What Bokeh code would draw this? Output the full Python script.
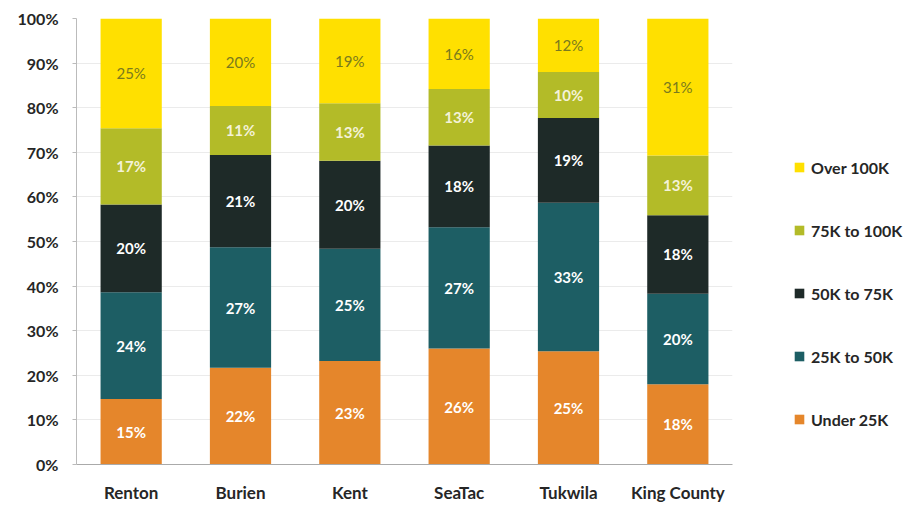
import numpy as np
from bokeh.plotting import figure
from bokeh.layouts import row
from bokeh.models import ColumnDataSource, Legend, LegendItem, PrintfTickFormatter, FixedTicker
from bokeh.core.properties import value
from bokeh.embed import file_html
from bokeh.resources import INLINE

cities = ["Renton", "Burien", "Kent", "SeaTac", "Tukwila", "King County"]
series = ["Under 25K", "25K to 50K", "50K to 75K", "75K to 100K", "Over 100K"]
under_25k = [14.7, 21.7, 23.2, 26.0, 25.4, 18.0]
k25_50 = [23.9, 27.0, 25.2, 27.2, 33.3, 20.3]
k50_75 = [19.7, 20.7, 19.7, 18.3, 19.0, 17.6]
k75_100 = [17.1, 11.0, 12.9, 12.7, 10.3, 13.4]
over_100k = [24.6, 19.6, 19.0, 15.8, 12.0, 30.7]
y_ticks = [0, 10, 20, 30, 40, 50, 60, 70, 80, 90, 100]

colors = ["#E5862B", "#1D5E64", "#1E2A28", "#B3BB28", "#FFE000"]
label_colors = ["#FFFFFF", "#FFFFFF", "#FFFFFF", "#F4F2D8", "#7A7A1E"]
label_styles = ["bold", "bold", "bold", "bold", "normal"]
FONT = "Lato"

vals = [under_25k, k25_50, k50_75, k75_100, over_100k]
data = {"city": cities}
for s, v in zip(series, vals):
    data[s] = v
source = ColumnDataSource(data)

p = figure(x_range=cities, y_range=(0, 100), width=740, height=505,
           output_backend="svg", toolbar_location=None,
           min_border_left=76, min_border_right=8, min_border_top=18, min_border_bottom=39)
p.outline_line_color = None
p.background_fill_color = "white"

p.vbar_stack(series, x="city", width=0.56, color=colors, source=source, line_color=None)

arr = np.array(vals)
cum = np.cumsum(arr, axis=0)
for i in range(len(series)):
    mids = cum[i] - arr[i] / 2.0
    texts = [f"{round(v):d}%" for v in arr[i]]
    ls = ColumnDataSource(dict(x=cities, y=mids, t=texts))
    p.text(x="x", y="y", text="t", source=ls, text_align="center", text_baseline="middle",
           text_color=label_colors[i], text_font=value(FONT), text_font_size="15px",
           text_font_style=label_styles[i])

p.yaxis.ticker = FixedTicker(ticks=y_ticks)
p.yaxis.formatter = PrintfTickFormatter(format="%d%%")
p.yaxis.major_label_text_font = FONT
p.yaxis.major_label_text_font_style = "bold"
p.yaxis.major_label_text_font_size = "16px"
p.yaxis.major_label_text_color = "#262626"
p.yaxis.major_label_standoff = 14
p.yaxis.axis_line_color = "#BBBBBB"
p.yaxis.major_tick_line_color = "#BBBBBB"
p.yaxis.major_tick_out = 4
p.yaxis.major_tick_in = 0
p.yaxis.minor_tick_line_color = None

p.xaxis.major_label_text_font = FONT
p.xaxis.major_label_text_font_style = "bold"
p.xaxis.major_label_text_font_size = "17px"
p.xaxis.major_label_text_color = "#262626"
p.xaxis.major_label_standoff = 11
p.xaxis.axis_line_color = "#AAAAAA"
p.xaxis.major_tick_line_color = None

p.xgrid.grid_line_color = None
p.ygrid.grid_line_color = "#EBEBEB"

# legend panel: separate figure; its swatch renderers are zero-width and off-range
lf = figure(x_range=cities, y_range=(1000, 1001), width=168, height=505,
            output_backend="svg", toolbar_location=None,
            x_axis_location=None, y_axis_location=None,
            min_border_left=0, min_border_right=0, min_border_top=0, min_border_bottom=0)
lf.grid.visible = False
lf.outline_line_color = None
lrs = lf.vbar_stack(series, x="city", width=0, color=colors, source=source, line_color=None)

items = [LegendItem(label=series[i], renderers=[lrs[i]]) for i in reversed(range(len(series)))]
legend = Legend(items=items, location=(53, 35), orientation="vertical",
                glyph_width=12, glyph_height=12, label_height=20, spacing=43,
                label_standoff=6, padding=0, margin=0,
                label_text_font=FONT, label_text_font_style="bold", label_text_font_size="16px",
                label_text_color="#262626", border_line_color=None, background_fill_alpha=0)
lf.add_layout(legend, "center")

layout = row(p, lf, spacing=0)
open("out.html", "w").write(file_html(layout, INLINE))
